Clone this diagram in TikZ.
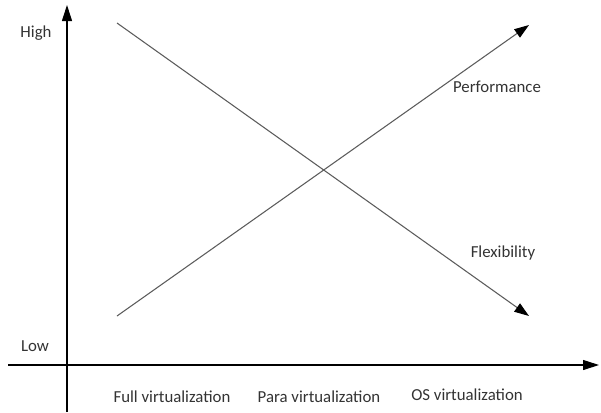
\documentclass[tikz,border=0pt]{standalone}
\usepackage{fontspec}
\setmainfont{Carlito}
\usetikzlibrary{arrows.meta, positioning}
\definecolor{axisBlack}{HTML}{000000}
\definecolor{trendGrey}{HTML}{5C5C5C}
\definecolor{labelText}{HTML}{333333}

\begin{document}
\begin{tikzpicture}[x=0.75pt, y=-0.75pt,
    axisLine/.style={draw=axisBlack, line width=0.8pt, -{Triangle[length=12pt, width=7.5pt]}},
    trendLine/.style={draw=trendGrey, line width=0.8pt, -{Triangle[length=11pt, width=7.5pt, color=axisBlack]}},
    axisLabel/.style={font=\fontsize{12.6}{14}\selectfont, text=labelText, inner sep=0pt}]
  \useasboundingbox (0,0) rectangle (601,412);

  % axes
  \coordinate (yBottom) at (67,412);
  \coordinate (yTop) at (67,5);
  \coordinate (xLeft) at (8,365);
  \coordinate (xRight) at (599,365);
  \draw[axisLine] (yBottom) -- (yTop);
  \draw[axisLine] (xLeft) -- (xRight);

  % trends
  \coordinate (flexStart) at (117,23);
  \coordinate (flexEnd) at (529,316);
  \coordinate (perfStart) at (117,316);
  \coordinate (perfEnd) at (529,25);
  \draw[trendLine] (flexStart) -- (flexEnd);
  \draw[trendLine] (perfStart) -- (perfEnd);

  % labels
  \node[axisLabel] (high) at (36,33) {High};
  \node[axisLabel] (low) at (35,346) {Low};
  \node[axisLabel] (perf) at (497,87) {Performance};
  \node[axisLabel] (flex) at (503,253) {Flexibility};
  \node[axisLabel] (fullVirt) at (172,397) {Full virtualization};
  \node[axisLabel] (paraVirt) at (319,397) {Para virtualization};
  \node[axisLabel] (osVirt) at (467,395) {OS virtualization};
\end{tikzpicture}
\end{document}
